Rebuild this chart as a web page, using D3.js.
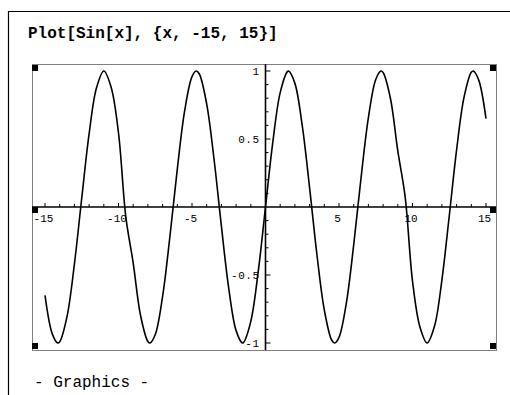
<!DOCTYPE html>
<html>
<head>
<meta charset="utf-8">
<script src="https://cdn.jsdelivr.net/npm/d3@7/dist/d3.min.js"></script>
<style>
  html, body { margin: 0; padding: 0; background: #fff; }
  svg { display: block; }
  .mono { font-family: "Liberation Mono", "Courier New", monospace; }
</style>
</head>
<body>
<svg id="chart" width="510" height="395"></svg>
<script>
const xs = [
  -15, -14.5, -14.137, -14, -13.5, -13, -12.5, -12, -11.5, -10.996, -10.5,
  -10, -9.5, -9, -8.5, -8, -7.854, -7.5, -7, -6.5, -6, -5.5, -5, -4.712,
  -4.5, -4, -3.5, -3, -2.5, -2, -1.571, -1.5, -1, -0.5, 0, 0.5, 1, 1.5,
  1.571, 2, 2.5, 3, 3.5, 4, 4.5, 4.712, 5, 5.5, 6, 6.5, 7, 7.5, 7.854, 8,
  8.5, 9, 9.5, 10, 10.5, 10.996, 11.5, 12, 12.5, 13, 13.5, 14, 14.137,
  14.5, 15,
];
const ys = [
  -0.65, -0.935, -1, -0.991, -0.804, -0.42, 0.066, 0.537, 0.875, 1, 0.88,
  0.544, -0.075, -0.412, -0.798, -0.989, -1, -0.938, -0.657, -0.215, 0.279,
  0.706, 0.959, 1, 0.978, 0.757, 0.351, -0.141, -0.598, -0.909, -1, -0.997,
  -0.841, -0.479, 0, 0.479, 0.841, 0.997, 1, 0.909, 0.598, 0.141, -0.351,
  -0.757, -0.978, -1, -0.959, -0.706, -0.279, 0.215, 0.657, 0.938, 1, 0.989,
  0.798, 0.412, 0.075, -0.544, -0.88, -1, -0.875, -0.537, -0.066, 0.42,
  0.804, 0.991, 1, 0.935, 0.65,
];

const xMajorTicks = [-15, -10, -5, 5, 10, 15];
const xTickLabels = ["-15", "-10", "-5", "5", "10", "15"];
const yMajorTicks = [-1, -0.5, 0.5, 1];
const yTickLabels = ["-1", "-0.5", "0.5", "1"];

const title = "Plot[Sin[x], {x, -15, 15}]";
const footer = "- Graphics -";

const svg = d3.select("#chart");

// layout
const frame = { left: 32, right: 496, top: 64, bottom: 350 };
const x = d3.scaleLinear().domain([-15, 15]).range([45, 486]);
const y = d3.scaleLinear().domain([-1, 1]).range([343, 71]);

// cell bracket
svg.append("path")
  .attr("d", "M8.5,395 V11.5 H510")
  .attr("fill", "none")
  .attr("stroke", "#000")
  .attr("stroke-width", 1.2);

svg.append("text")
  .attr("class", "mono")
  .attr("x", 28)
  .attr("y", 38)
  .attr("font-size", 16)
  .attr("font-weight", "bold")
  .text(title);

// dotted plot frame
svg.append("rect")
  .attr("x", frame.left + 0.5)
  .attr("y", frame.top + 0.5)
  .attr("width", frame.right - frame.left)
  .attr("height", frame.bottom - frame.top)
  .attr("fill", "none")
  .attr("stroke", "#000")
  .attr("stroke-width", 1)
  .attr("stroke-dasharray", "1,1");

// corner markers
const markerX = [frame.left, frame.right - 6];
const markerY = [frame.top + 1, y(0), frame.bottom - 7];
markerX.forEach((mx) => {
  markerY.forEach((my) => {
    svg.append("rect")
      .attr("x", mx)
      .attr("y", my)
      .attr("width", 6)
      .attr("height", 6)
      .attr("fill", "#000");
  });
});

// x axis
const xAxis = svg.append("g").attr("transform", `translate(0,${y(0)})`);
xAxis.append("line")
  .attr("x1", frame.left)
  .attr("x2", frame.right)
  .attr("stroke", "#000")
  .attr("stroke-width", 1.6);

xAxis.selectAll("line.minor")
  .data(d3.range(-15, 16).filter((d) => d !== 0))
  .join("line")
  .attr("class", "minor")
  .attr("x1", (d) => x(d))
  .attr("x2", (d) => x(d))
  .attr("y1", 0)
  .attr("y2", (d) => (d % 5 === 0 ? -4 : -3))
  .attr("stroke", "#000")
  .attr("stroke-width", 1);

xAxis.selectAll("text")
  .data(xMajorTicks)
  .join("text")
  .attr("class", "mono")
  .attr("x", (d) => x(d) - 1.5)
  .attr("y", 15)
  .attr("text-anchor", "middle")
  .attr("font-size", 11)
  .text((d, i) => xTickLabels[i]);

// y axis
const yAxis = svg.append("g").attr("transform", `translate(${x(0)},0)`);
yAxis.append("line")
  .attr("y1", frame.top)
  .attr("y2", frame.bottom)
  .attr("stroke", "#000")
  .attr("stroke-width", 1.6);

yAxis.selectAll("line.minor")
  .data(d3.range(-10, 11).filter((d) => d !== 0).map((d) => d / 10))
  .join("line")
  .attr("class", "minor")
  .attr("y1", (d) => y(d))
  .attr("y2", (d) => y(d))
  .attr("x1", 0)
  .attr("x2", (d) => (Math.abs(d * 10) % 5 === 0 ? 5 : 3))
  .attr("stroke", "#000")
  .attr("stroke-width", 1);

yAxis.selectAll("text")
  .data(yMajorTicks)
  .join("text")
  .attr("class", "mono")
  .attr("x", -6)
  .attr("y", (d) => y(d))
  .attr("dy", "0.35em")
  .attr("text-anchor", "end")
  .attr("font-size", 11)
  .attr("letter-spacing", 0.5)
  .text((d, i) => yTickLabels[i]);

// curve
const line = d3.line()
  .x((d) => x(d[0]))
  .y((d) => y(d[1]))
  .curve(d3.curveCatmullRom);

svg.append("path")
  .datum(xs.map((v, i) => [v, ys[i]]))
  .attr("d", line)
  .attr("fill", "none")
  .attr("stroke", "#000")
  .attr("stroke-width", 1.6);

svg.append("text")
  .attr("class", "mono")
  .attr("x", 34)
  .attr("y", 387)
  .attr("font-size", 16)
  .text(footer);
</script>
</body>
</html>
